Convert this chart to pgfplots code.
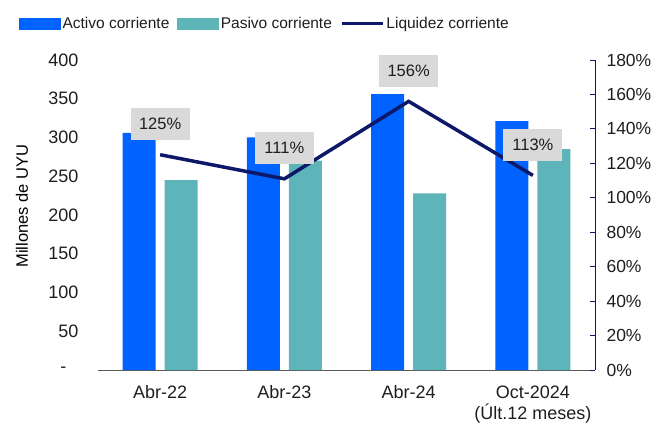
\documentclass[border=0pt]{standalone}
\usepackage{pgfplots}
\pgfplotsset{compat=1.18}
\usepackage{fontspec}
\setmainfont{Liberation Sans}
\definecolor{activo}{RGB}{0,98,255}
\definecolor{pasivo}{RGB}{94,181,185}
\definecolor{liq}{RGB}{14,24,104}
\definecolor{lblgray}{RGB}{217,217,217}
\definecolor{axgray}{RGB}{90,90,90}
\definecolor{txt}{RGB}{30,30,30}
\begin{document}
\begin{tikzpicture}[font=\fontsize{16}{19}\selectfont]
\path[use as bounding box] (-98pt,-55pt) rectangle (562pt,370pt);
\begin{axis}[
  scale only axis, width=497pt, height=310pt,
  xmin=-0.5, xmax=3.5, ymin=0, ymax=400,
  axis lines*=left,
  y axis line style={draw=none},
  x axis line style={axgray},
  ybar=9pt, bar width=33pt,
  xtick={0,1,2,3},
  xticklabels={Abr-22,Abr-23,Abr-24,{Oct-2024\\(Últ.12 meses)}},
  xticklabel style={align=center, text=txt, yshift=-8pt, font=\fontsize{18}{21}\selectfont},
  x tick style={draw=none},
  extra x ticks={-0.5,0.5,1.5,2.5,3.5},
  extra x tick labels={},
  extra x tick style={major tick length=6pt, tick align=outside, tick style={draw=axgray, thin}},
  ytick={0,50,...,400},
  yticklabels={{-\hspace*{12pt}},50,100,150,200,250,300,350,400},
  y tick style={draw=none},
  yticklabel style={text=txt, xshift=-16pt, font=\fontsize{18}{22}\selectfont},
  every axis y label/.style={at={(axis description cs:0,0.529)}, xshift=-76pt, rotate=90, anchor=center, font=\fontsize{16.5}{20}\selectfont},
  ylabel={Millones de UYU},
  clip=false,
]
\addplot[fill=activo, draw=none] coordinates {(0,306)(1,300)(2,356)(3,321)};
\addplot[fill=pasivo, draw=none] coordinates {(0,245)(1,270)(2,228)(3,285)};
\end{axis}
\begin{axis}[
  scale only axis, width=497pt, height=310pt,
  xmin=-0.5, xmax=3.5, ymin=0, ymax=180,
  axis y line*=right, axis x line=none,
  y axis line style={liq, line width=0.8pt},
  ytick={0,20,...,180},
  yticklabel={\pgfmathprintnumber[assume math mode=true]{\tick}\%},
  yticklabel style={text=txt, xshift=8pt, font=\fontsize{17.5}{21}\selectfont},
  y tick style={liq, line width=0.8pt},
  tick align=inside, major tick length=5pt,
  clip=false,
  legend style={at={(-0.165,1.118)}, anchor=west, draw=none, fill=none, legend columns=3,
    /tikz/every even column/.append style={column sep=6pt},
    nodes={inner sep=2pt, text=txt, font=\fontsize{15.5}{19}\selectfont}},
  legend cell align=left,
]
\addlegendimage{legend image code/.code={\fill[activo] (0pt,-5.5pt) rectangle (41pt,5.5pt);}}
\addlegendentry{Activo corriente}
\addlegendimage{legend image code/.code={\fill[pasivo] (0pt,-5.5pt) rectangle (41pt,5.5pt);}}
\addlegendentry{Pasivo corriente}
\addplot[liq, line width=3.5pt,
  legend image code/.code={\draw[liq, line width=3.5pt] (0pt,0pt)--(41pt,0pt);},
  nodes near coords={\pgfmathprintnumber[assume math mode=true]{\pgfplotspointmeta}\%},
  every node near coord/.append style={fill=lblgray, anchor=south, yshift=13pt, minimum width=59pt, minimum height=32pt, inner sep=0pt, text=txt, font=\fontsize{16.5}{20}\selectfont}
] coordinates {(0,125)(1,111)(2,156)(3,113)};
\addlegendentry{Liquidez corriente}
\end{axis}
\end{tikzpicture}
\end{document}
